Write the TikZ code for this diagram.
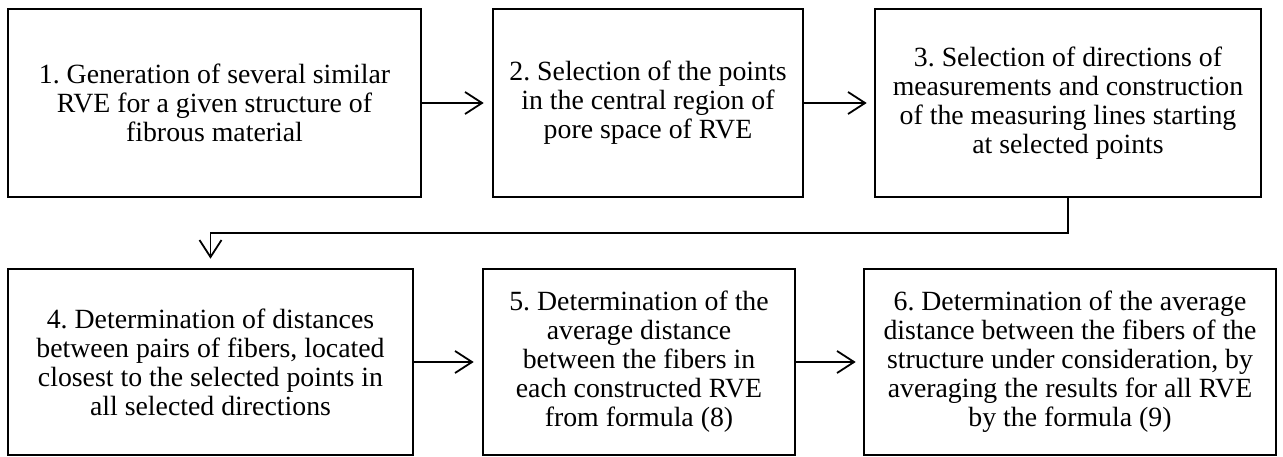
\documentclass[tikz,border=0pt]{standalone}
\usepackage{fontspec}
\setmainfont{Liberation Serif}
\usetikzlibrary{arrows.meta}
\frenchspacing
\begin{document}
\begin{tikzpicture}[x=1pt,y=-1pt,
  stepbox/.style={draw, line width=2.6pt, rectangle, inner sep=0pt, align=center,
    font=\fontsize{27.8pt}{29pt}\selectfont, minimum height=188pt},
  arr/.style={line width=1.8pt, -{Straight Barb[length=17pt,width=22pt,line width=1.8pt]}}]
\useasboundingbox (0,0) rectangle (1283,457);
\node[stepbox, minimum width=413pt] (b1) at (214.5,103) {1. Generation of several similar\\RVE for a given structure of\\fibrous material};
\node[stepbox, minimum width=310pt] (b2) at (648,103) {2. Selection of the points\\in the central region of\\pore space of RVE};
\node[stepbox, minimum width=386pt] (b3) at (1068,103) {3. Selection of directions of\\measurements and construction\\of the measuring lines starting\\at selected points};
\node[stepbox, minimum width=405pt, minimum height=186pt] (b4) at (210.5,362) {4. Determination of distances\\between pairs of fibers, located\\closest to the selected points in\\all selected directions};
\node[stepbox, minimum width=312pt, minimum height=186pt] (b5) at (639,362) {5. Determination of the\\average distance\\between the fibers in\\each constructed RVE\\from formula (8)};
\node[stepbox, minimum width=412pt, minimum height=186pt] (b6) at (1070,362) {6. Determination of the average\\distance between the fibers of the\\structure under consideration, by\\averaging the results for all RVE\\by the formula (9)};
\draw[arr] (b1.east) -- ([xshift=-8pt]b2.west);
\draw[arr] (b2.east) -- ([xshift=-7pt]b3.west);
\draw[arr] (b4.east) -- ([xshift=-8pt]b5.west);
\draw[arr] (b5.east) -- ([xshift=-7pt]b6.west);
\draw[arr] (b3.south) -- ++(0,35) -| ([yshift=9pt]b4.north);
\end{tikzpicture}
\end{document}
